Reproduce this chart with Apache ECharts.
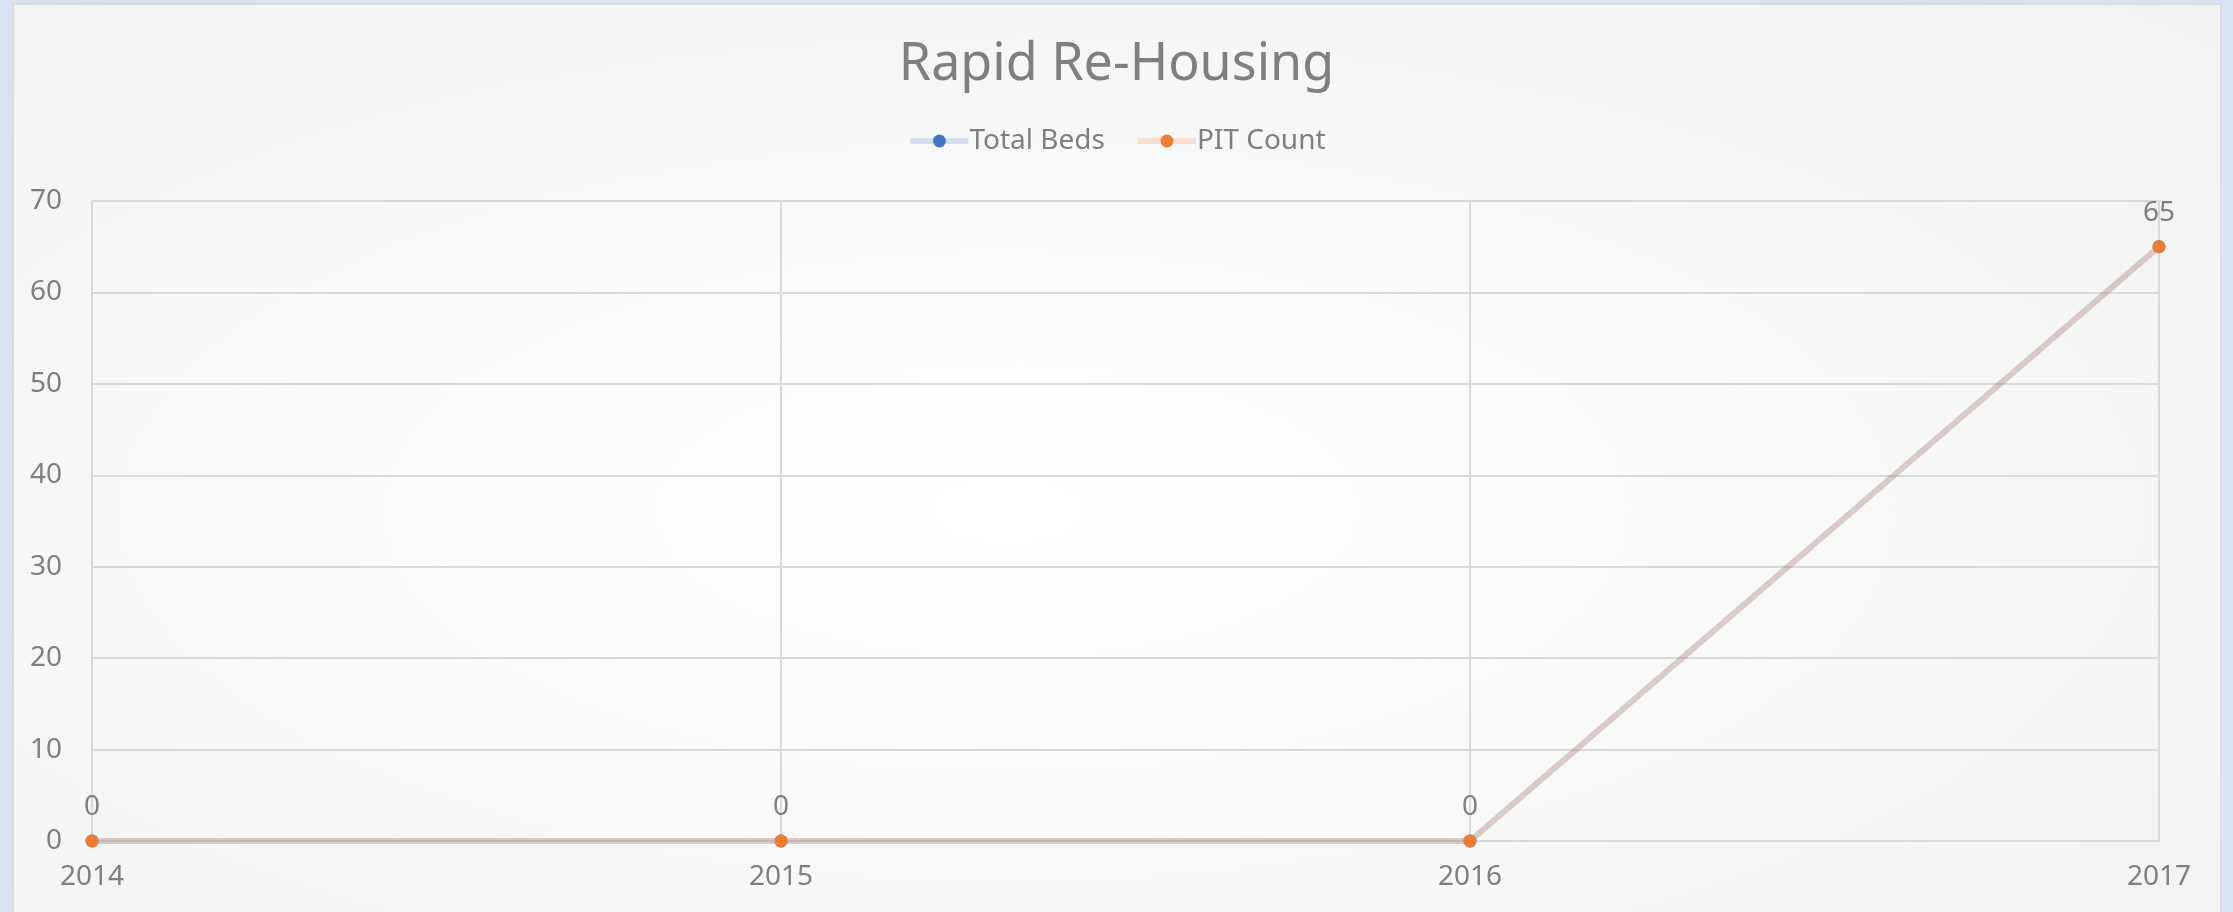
<!DOCTYPE html>
<html lang="en">
<head>
    <meta charset="UTF-8">
    <title>Rapid Re-Housing</title>
    <style>
        html, body {
            margin: 0;
            padding: 0;
            width: 2233px;
            height: 912px;
            overflow: hidden;
            background: #dae3f3;
        }

        .box {
            position: absolute;
            left: 12px;
            top: 3px;
            width: 2206px;
            height: 920px;
            border: 2px solid #dcdcdc;
            background: radial-gradient(ellipse at 45% 55%, #ffffff 0%, #f9f9f9 45%, #f1f1f1 100%);
        }

        #myEcharts {
            position: absolute;
            left: 0;
            top: 0;
            width: 2233px;
            height: 912px;
        }
    </style>
    <script src="https://cdn.jsdelivr.net/npm/echarts@6/dist/echarts.min.js"></script>
</head>
<body>
    <div class="box"></div>
    <div id="myEcharts"></div>

    <script>
        // data
        const years = ['2014', '2015', '2016', '2017'];
        const totalBeds = [0, 0, 0, 65];
        const pitCount = [0, 0, 0, 65];

        const textColor = '#7f7f7f';
        const gridColor = '#d9d9d9';
        const font = 'Noto Sans';

        var myChart = echarts.init(document.getElementById('myEcharts'));

        option = {
            backgroundColor: 'transparent',
            title: {
                text: 'Rapid Re-Housing',
                left: 'center',
                top: 34,
                textStyle: {
                    color: textColor,
                    fontFamily: font,
                    fontWeight: 'normal',
                    fontSize: 52
                }
            },
            legend: {
                top: 122,
                left: 'center',
                itemWidth: 58,
                itemHeight: 16,
                itemGap: 30,
                lineStyle: { width: 6 },
                textStyle: {
                    color: textColor,
                    fontFamily: font,
                    fontSize: 28,
                    padding: [0, 0, 0, -4]
                },
                data: ['Total Beds', 'PIT Count']
            },
            grid: {
                left: 92,
                right: 74,
                top: 201,
                bottom: 71
            },
            xAxis: {
                type: 'category',
                boundaryGap: false,
                data: years,
                axisLine: { lineStyle: { color: gridColor, width: 2 } },
                axisTick: { show: false },
                splitLine: { show: true, lineStyle: { color: gridColor, width: 2 } },
                axisLabel: {
                    color: textColor,
                    fontFamily: font,
                    fontSize: 28,
                    margin: 22
                }
            },
            yAxis: {
                type: 'value',
                min: 0,
                max: 70,
                interval: 10,
                axisLine: { show: false },
                axisTick: { show: false },
                splitLine: { lineStyle: { color: gridColor, width: 2 } },
                axisLabel: {
                    color: textColor,
                    fontFamily: font,
                    fontSize: 28,
                    margin: 30
                }
            },
            series: [
                {
                    name: 'Total Beds',
                    type: 'line',
                    data: totalBeds,
                    symbol: 'circle',
                    symbolSize: 13,
                    color: '#4472c4',
                    lineStyle: { width: 6, color: 'rgba(68,114,196,0.2)' },
                    z: 2
                },
                {
                    name: 'PIT Count',
                    type: 'line',
                    data: pitCount,
                    symbol: 'circle',
                    symbolSize: 13,
                    color: '#ed7d31',
                    lineStyle: { width: 6, color: 'rgba(237,125,49,0.2)' },
                    label: {
                        show: true,
                        position: 'top',
                        distance: 13,
                        color: textColor,
                        fontFamily: font,
                        fontSize: 28
                    },
                    z: 3
                }
            ]
        };

        myChart.setOption(option);
    </script>
</body>
</html>
